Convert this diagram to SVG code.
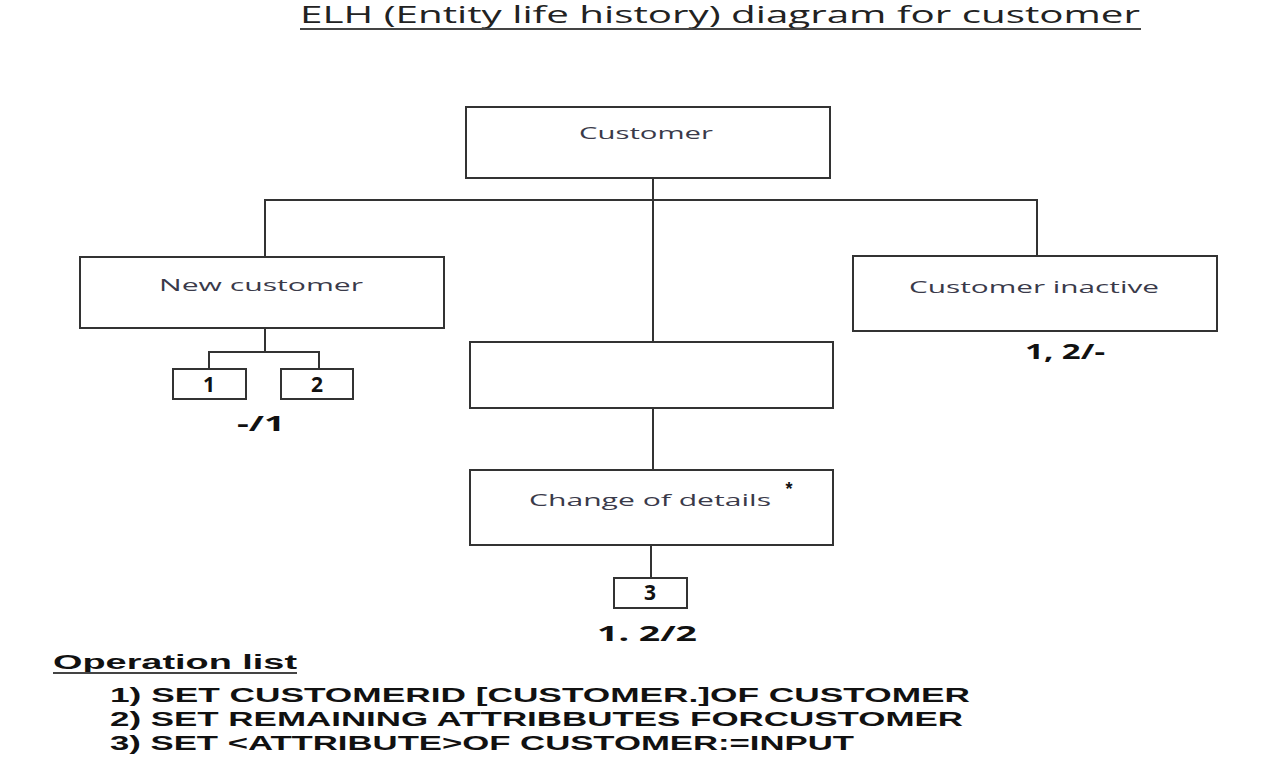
<svg xmlns="http://www.w3.org/2000/svg" width="1287" height="765" viewBox="0 0 1287 765">
<style>
.box{fill:#fff;stroke:#333;stroke-width:2}
.ln{stroke:#333;stroke-width:2;fill:none}
.lbl{font-family:"Open Sans","Liberation Sans",sans-serif;font-size:17px;fill:#3a3a4a;text-anchor:middle}
.b{font-family:"Open Sans","Liberation Sans",sans-serif;font-weight:bold;font-size:21px;fill:#111}
.op{font-family:"Liberation Sans",Arial,sans-serif;font-weight:bold;font-size:20px;fill:#111}
.bc{text-anchor:middle}
</style>
<rect width="1287" height="765" fill="#fff"/>
<g id="title">
<text x="300" y="23" font-family="Open Sans, Liberation Sans, sans-serif" font-size="23" fill="#222" textLength="840" lengthAdjust="spacingAndGlyphs">ELH (Entity life history) diagram for customer</text>
<line x1="300" y1="29" x2="1141" y2="29" stroke="#444" stroke-width="2"/>
</g>
<g id="connectors">
<line class="ln" x1="653" y1="178" x2="653" y2="342"/>
<line class="ln" x1="264" y1="200" x2="1038" y2="200"/>
<line class="ln" x1="265" y1="200" x2="265" y2="257"/>
<line class="ln" x1="1037" y1="200" x2="1037" y2="256"/>
<line class="ln" x1="653" y1="408" x2="653" y2="470"/>
<line class="ln" x1="651" y1="545" x2="651" y2="578"/>
<polyline class="ln" points="265,328 265,352"/>
<polyline class="ln" points="209,369 209,352 319,352 319,369"/>
</g>
<g id="customer"><rect class="box" x="466" y="107" width="364" height="71"/><text class="lbl" x="646" y="139" textLength="134" lengthAdjust="spacingAndGlyphs">Customer</text></g>
<g id="new-customer"><rect class="box" x="80" y="257" width="364" height="71"/><text class="lbl" x="261" y="291" textLength="204" lengthAdjust="spacingAndGlyphs">New customer</text></g>
<g id="customer-inactive"><rect class="box" x="853" y="256" width="364" height="75"/><text class="lbl" x="1034" y="293" textLength="250" lengthAdjust="spacingAndGlyphs">Customer inactive</text>
<text class="b bc" x="1065" y="359" textLength="80" lengthAdjust="spacingAndGlyphs">1, 2/-</text></g>
<g id="middle"><rect class="box" x="470" y="342" width="363" height="66"/></g>
<g id="change-of-details"><rect class="box" x="470" y="470" width="363" height="75"/><text class="lbl" x="650" y="506" textLength="242" lengthAdjust="spacingAndGlyphs">Change of details</text>
<text x="789" y="495" font-family="Liberation Sans, sans-serif" font-size="18" font-weight="bold" fill="#111" text-anchor="middle">*</text></g>
<g id="op1"><rect class="box" x="173" y="369" width="73" height="30"/><text class="b bc" x="209" y="392">1</text></g>
<g id="op2"><rect class="box" x="281" y="369" width="72" height="30"/><text class="b bc" x="317" y="392">2</text></g>
<text class="b bc" x="261" y="431" textLength="48" lengthAdjust="spacingAndGlyphs">-/1</text>
<g id="op3"><rect class="box" x="614" y="578" width="73" height="30"/><text class="b bc" x="650" y="600">3</text></g>
<text class="b bc" x="647" y="641" textLength="100" lengthAdjust="spacingAndGlyphs">1. 2/2</text>
<g id="operation-list">
<text class="op" x="53" y="669" textLength="244" lengthAdjust="spacingAndGlyphs">Operation list</text>
<line x1="53" y1="673" x2="297" y2="673" stroke="#444" stroke-width="2"/>
<text class="op" x="110" y="702" textLength="860" lengthAdjust="spacingAndGlyphs">1) SET CUSTOMERID [CUSTOMER.]OF CUSTOMER</text>
<text class="op" x="110" y="726" textLength="853" lengthAdjust="spacingAndGlyphs">2) SET REMAINING ATTRIBBUTES FORCUSTOMER</text>
<text class="op" x="110" y="750" textLength="744" lengthAdjust="spacingAndGlyphs">3) SET &lt;ATTRIBUTE&gt;OF CUSTOMER:=INPUT</text>
</g>
</svg>
